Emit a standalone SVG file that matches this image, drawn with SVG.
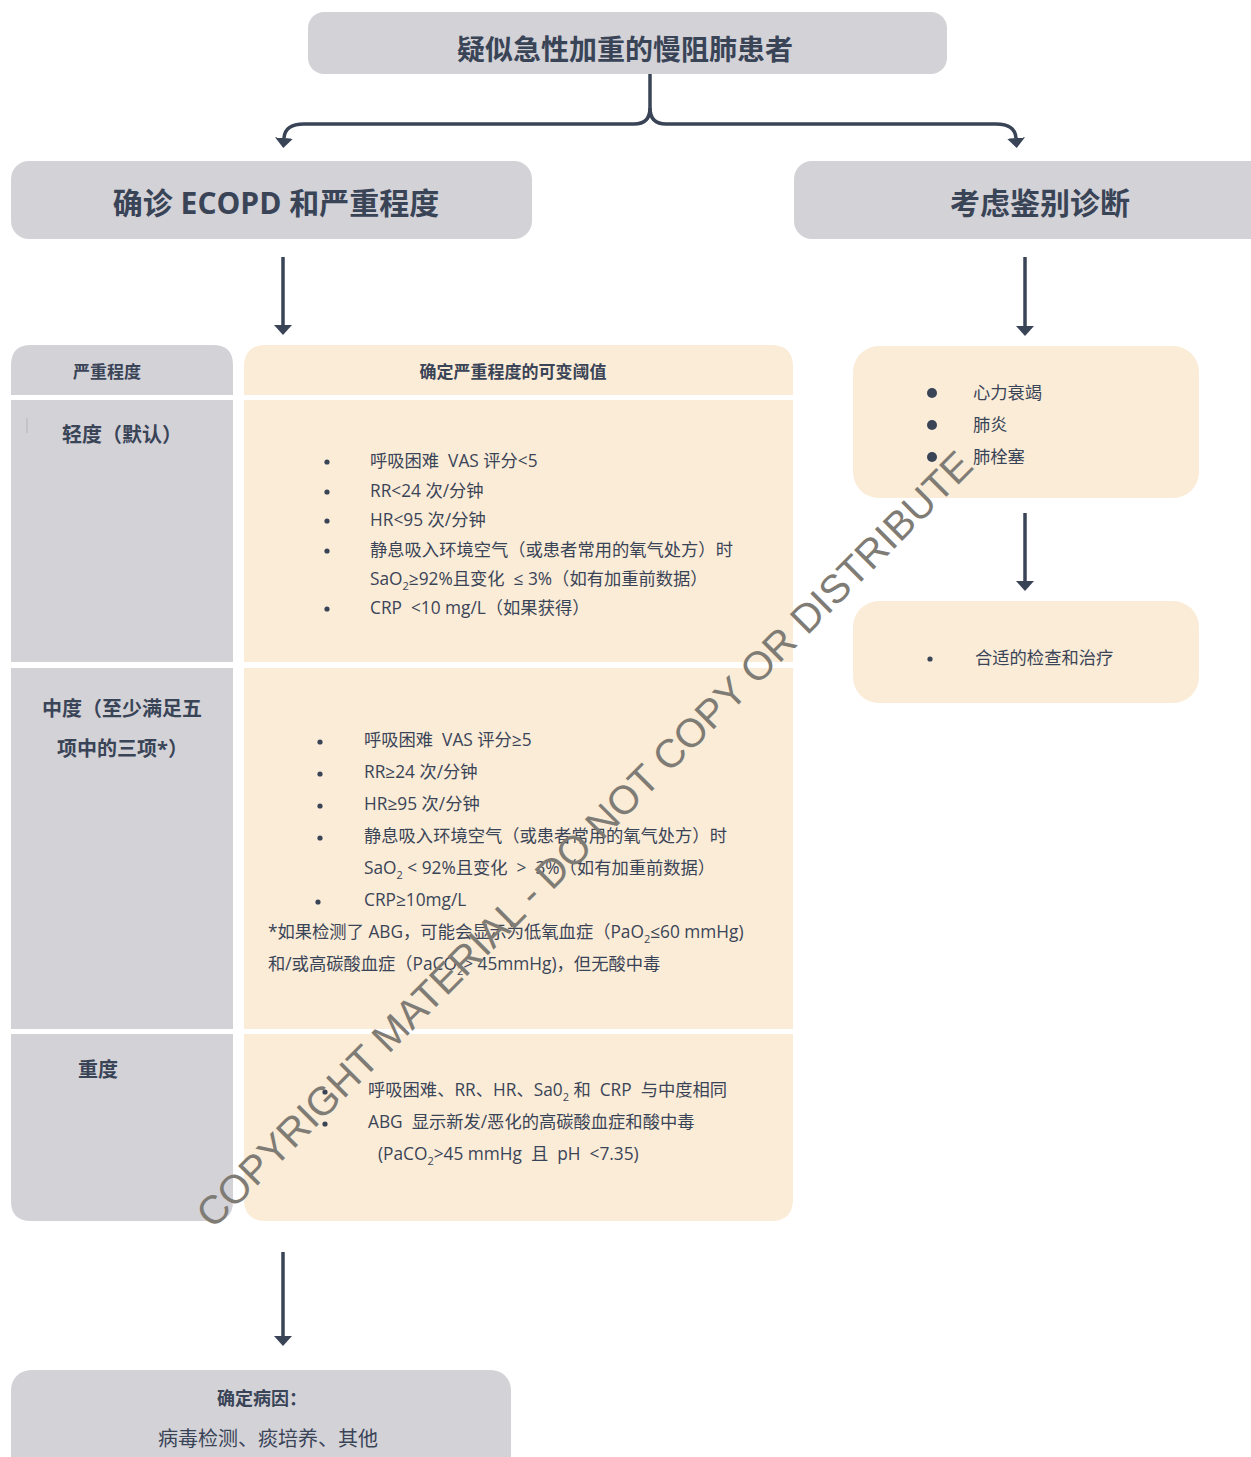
<svg xmlns="http://www.w3.org/2000/svg" width="1251" height="1457" viewBox="0 0 1251 1457">
  <defs>
    <style>
      .gray { fill: #d3d2d7; }
      .cream { fill: #faecd7; }
      .t { font-family: "Open Sans", "Noto Sans CJK SC", sans-serif; fill: #3a4457; }
      .title { font-size: 30px; font-weight: bold; text-anchor: middle; }
      .hd { font-size: 17px; font-weight: bold; text-anchor: middle; }
      .lbl { font-size: 20px; font-weight: bold; }
      .body { font-size: 17.3px; }
      .body text { white-space: pre; }
      .sub { font-size: 11px; }
      .dot { fill: #3a4457; }
      .conn { fill: none; stroke: #3a4457; stroke-width: 3.5; }
      .wm { font-family: "Liberation Sans", Arial, sans-serif; font-size: 40px; fill: #7f7b75; text-anchor: middle; }
    </style>
    <marker id="arrow" markerUnits="userSpaceOnUse" viewBox="0 -9 10 18" markerWidth="10" markerHeight="18" refX="0" refY="0" orient="auto">
      <path d="M0,-9 L10,0 L0,9 z" fill="#3a4457"/>
    </marker>
  </defs>

  <rect width="1251" height="1457" fill="#ffffff"/>

  <!-- connectors -->
  <g id="connectors">
    <path class="conn" d="M650,74 V108 Q650,124 634,124 H304 Q285,124 284,138" marker-end="url(#arrow)"/>
    <path class="conn" d="M650,108 Q650,124 666,124 H996 Q1015,124 1016,138" marker-end="url(#arrow)"/>
    <line class="conn" x1="283" y1="257" x2="283" y2="325" marker-end="url(#arrow)"/>
    <line class="conn" x1="1025" y1="257" x2="1025" y2="326" marker-end="url(#arrow)"/>
    <line class="conn" x1="1025" y1="513" x2="1025" y2="581" marker-end="url(#arrow)"/>
    <line class="conn" x1="283" y1="1252" x2="283" y2="1336" marker-end="url(#arrow)"/>
  </g>

  <!-- start node -->
  <g id="node-start">
    <rect class="gray" x="308" y="12" width="639" height="62" rx="16"/>
    <text class="t" x="625" y="60" font-size="28" font-weight="bold" text-anchor="middle">疑似急性加重的慢阻肺患者</text>
  </g>

  <!-- diagnosis node -->
  <g id="node-diagnose">
    <rect class="gray" x="11" y="161" width="521" height="78" rx="18"/>
    <text class="t title" x="276" y="214">确诊 ECOPD 和严重程度</text>
  </g>

  <!-- differential node -->
  <g id="node-differential">
    <rect class="gray" x="794" y="161" width="480" height="78" rx="18"/>
    <text class="t title" x="1040" y="214">考虑鉴别诊断</text>
  </g>

  <!-- severity table -->
  <g id="node-severity-table">
    <!-- header row -->
    <path class="gray" d="M11,395 V365 Q11,345 31,345 H213 Q233,345 233,365 V395 z"/>
    <path class="cream" d="M244,395 V367 Q244,345 266,345 H771 Q793,345 793,367 V395 z"/>
    <text class="t hd" x="107" y="378">严重程度</text>
    <text class="t hd" x="513" y="378">确定严重程度的可变阈值</text>

    <!-- mild row -->
    <rect class="gray" x="11" y="400" width="222" height="262"/>
    <rect class="cream" x="244" y="400" width="549" height="262"/>
    <line x1="27" y1="418" x2="27" y2="433" stroke="#b5b4b8" stroke-width="1"/>
    <text class="t lbl" x="62" y="442">轻度（默认）</text>
    <g class="t body">
      <circle class="dot" cx="327" cy="462" r="2.6"/>
      <text x="370" y="467">呼吸困难  VAS 评分&lt;5</text>
      <circle class="dot" cx="327" cy="492" r="2.6"/>
      <text x="370" y="497">RR&lt;24 次/分钟</text>
      <circle class="dot" cx="327" cy="521" r="2.6"/>
      <text x="370" y="526">HR&lt;95 次/分钟</text>
      <circle class="dot" cx="327" cy="551" r="2.6"/>
      <text x="370" y="556">静息吸入环境空气（或患者常用的氧气处方）时</text>
      <text x="370" y="585">SaO<tspan class="sub" dy="5">2</tspan><tspan dy="-5">≥92%且变化  ≤ 3%（如有加重前数据）</tspan></text>
      <circle class="dot" cx="327" cy="609" r="2.6"/>
      <text x="370" y="614">CRP  &lt;10 mg/L（如果获得）</text>
    </g>

    <!-- moderate row -->
    <rect class="gray" x="11" y="668" width="222" height="361"/>
    <rect class="cream" x="244" y="668" width="549" height="361"/>
    <text class="t lbl" x="122" y="716" text-anchor="middle">中度（至少满足五</text>
    <text class="t lbl" x="57" y="756">项中的三项*）</text>
    <g class="t body">
      <circle class="dot" cx="320" cy="742" r="2.6"/>
      <text x="364" y="746">呼吸困难  VAS 评分≥5</text>
      <circle class="dot" cx="320" cy="774" r="2.6"/>
      <text x="364" y="778">RR≥24 次/分钟</text>
      <circle class="dot" cx="320" cy="806" r="2.6"/>
      <text x="364" y="810">HR≥95 次/分钟</text>
      <circle class="dot" cx="320" cy="838" r="2.6"/>
      <text x="364" y="842">静息吸入环境空气（或患者常用的氧气处方）时</text>
      <text x="364" y="874">SaO<tspan class="sub" dy="5">2</tspan><tspan dy="-5"> &lt; 92%且变化  &gt;  3%（如有加重前数据）</tspan></text>
      <circle class="dot" cx="318" cy="902" r="2.6"/>
      <text x="364" y="906">CRP≥10mg/L</text>
      <text x="268" y="938">*如果检测了 ABG，可能会显示为低氧血症（PaO<tspan class="sub" dy="5">2</tspan><tspan dy="-5">≤60 mmHg)</tspan></text>
      <text x="268" y="970">和/或高碳酸血症（PaCO<tspan class="sub" dy="5">2</tspan><tspan dy="-5">&gt; 45mmHg)，但无酸中毒</tspan></text>
    </g>

    <!-- severe row -->
    <path class="gray" d="M11,1034 H233 V1201 Q233,1221 213,1221 H31 Q11,1221 11,1201 z"/>
    <path class="cream" d="M244,1034 H793 V1199 Q793,1221 771,1221 H266 Q244,1221 244,1199 z"/>
    <text class="t lbl" x="78" y="1077">重度</text>
    <g class="t body">
      <circle class="dot" cx="325" cy="1092" r="2.6"/>
      <text x="368" y="1096">呼吸困难、RR、HR、Sa0<tspan class="sub" dy="5">2</tspan><tspan dy="-5"> 和  CRP  与中度相同</tspan></text>
      <circle class="dot" cx="325" cy="1124" r="2.6"/>
      <text x="368" y="1128">ABG  显示新发/恶化的高碳酸血症和酸中毒</text>
      <text x="378" y="1160">(PaCO<tspan class="sub" dy="5">2</tspan><tspan dy="-5">&gt;45 mmHg  且  pH  &lt;7.35)</tspan></text>
    </g>
  </g>

  <!-- differential list node -->
  <g id="node-differential-list">
    <rect class="cream" x="853" y="346" width="346" height="152" rx="26"/>
    <g class="t body">
      <circle class="dot" cx="932" cy="393" r="5"/>
      <text x="973" y="399">心力衰竭</text>
      <circle class="dot" cx="932" cy="425" r="5"/>
      <text x="973" y="431">肺炎</text>
      <circle class="dot" cx="932" cy="457" r="5"/>
      <text x="973" y="463">肺栓塞</text>
    </g>
  </g>

  <!-- workup node -->
  <g id="node-workup">
    <rect class="cream" x="853" y="601" width="346" height="102" rx="26"/>
    <circle class="dot" cx="930" cy="659" r="2.6"/>
    <text class="t body" x="975" y="664">合适的检查和治疗</text>
  </g>

  <!-- etiology node -->
  <g id="node-etiology">
    <rect class="gray" x="11" y="1370" width="500" height="120" rx="20"/>
    <text class="t" x="262" y="1405" font-size="18" font-weight="bold" text-anchor="middle">确定病因：</text>
    <text class="t" x="268" y="1446" font-size="20" text-anchor="middle">病毒检测、痰培养、其他</text>
  </g>

  <!-- copyright watermark -->
  <text class="wm" x="594" y="849" transform="rotate(-45 594 849)">COPYRIGHT MATERIAL - DO NOT COPY OR DISTRIBUTE</text>
</svg>
